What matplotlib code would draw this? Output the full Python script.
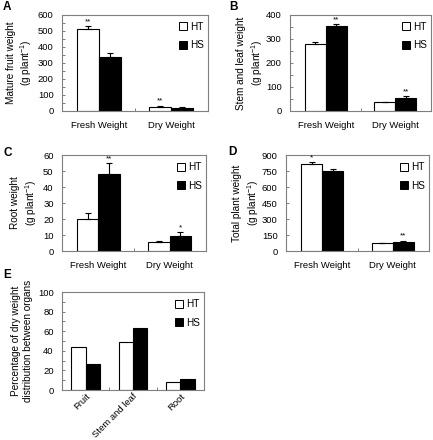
import matplotlib
matplotlib.use("Agg")
import matplotlib.pyplot as plt
from matplotlib.lines import Line2D
import numpy as np

plt.rcParams['font.family'] = ['Liberation Sans', 'DejaVu Sans']
plt.rcParams['mathtext.fontset'] = 'custom'
plt.rcParams['mathtext.rm'] = 'Liberation Sans'
plt.rcParams['mathtext.it'] = 'Liberation Sans:italic'
plt.rcParams['mathtext.bf'] = 'Liberation Sans:bold'

# ---------------- data ----------------
groups = ["Fresh Weight", "Dry Weight"]
series = ["HT", "HS"]

fruit_ht = [510, 28]
fruit_ht_err = [20, 6]
fruit_hs = [340, 21]
fruit_hs_err = [20, 2]
fruit_stars_ht = ["**", "**"]
fruit_stars_hs = ["", ""]

stem_ht = [280, 36]
stem_ht_err = [8, 2]
stem_hs = [354, 56]
stem_hs_err = [8, 6]
stem_stars_ht = ["", ""]
stem_stars_hs = ["**", "**"]

root_ht = [20, 5.7]
root_ht_err = [3.5, 0.8]
root_hs = [48, 9.6]
root_hs_err = [7, 2.3]
root_stars_ht = ["", ""]
root_stars_hs = ["**", "*"]

total_ht = [812, 72]
total_ht_err = [20, 3]
total_hs = [747, 88]
total_hs_err = [20, 10]
total_stars_ht = ["*", ""]
total_stars_hs = ["", "**"]

organs = ["Fruit", "Stem and leaf", "Root"]
pct_ht = [44, 48.6, 7.8]
pct_hs = [27, 63, 10.9]

GRAY = "#7f7f7f"
FS = 6.8
W = 0.3

fig = plt.figure(figsize=(4.33, 4.40), dpi=100)

def fx(px):
    return px / 433.0

def fy(py):
    return 1 - py / 440.0

def make_ax(l, r, t, b):
    return fig.add_axes([fx(l), fy(b), fx(r) - fx(l), fy(t) - fy(b)])

def style(ax, ymax, major, minor, ylabel, labx):
    for s in ax.spines.values():
        s.set_color(GRAY)
        s.set_linewidth(0.8)
    ax.set_ylim(0, ymax)
    ax.set_yticks(np.arange(0, ymax + major / 2, major))
    if minor:
        ax.set_yticks(np.arange(0, ymax + minor / 2, minor), minor=True)
    ax.tick_params(axis='y', which='both', direction='in', length=2.5,
                   width=0.7, color=GRAY, labelsize=FS, pad=6, right=False)
    ax.tick_params(axis='y', which='minor', length=2)
    ax.set_ylabel(ylabel, fontsize=7.2, linespacing=1.25)
    ax.yaxis.set_label_coords(labx, 0.5)

def legend(ax):
    handles = [Line2D([], [], ls='none', marker='s', markersize=5.2,
                      markerfacecolor=c, markeredgecolor='black',
                      markeredgewidth=0.7) for c in ('white', 'black')]
    ax.legend(handles, series, loc='upper right', bbox_to_anchor=(1.02, 1.0),
              frameon=False, fontsize=FS + 0.4, handlelength=0.8,
              handletextpad=0.3, labelspacing=0.85, borderaxespad=0.3)

def weight_panel(ax, ht, hte, hs, hse, sht, shs, ymax, major, minor, ylabel, labx):
    x = np.arange(len(groups))
    ax.bar(x - W / 2, ht, W, color='white', edgecolor='black', linewidth=0.8)
    ax.bar(x + W / 2, hs, W, color='black', edgecolor='black', linewidth=0.8)
    ax.errorbar(x - W / 2, ht, yerr=[np.zeros(len(ht)), hte], fmt='none',
                ecolor='black', elinewidth=0.8, capsize=2.2, capthick=0.8)
    ax.errorbar(x + W / 2, hs, yerr=[np.zeros(len(hs)), hse], fmt='none',
                ecolor='black', elinewidth=0.8, capsize=2.2, capthick=0.8)
    for xi, v, e, s in zip(x - W / 2, ht, hte, sht):
        if s:
            ax.annotate(s, (xi, v + e), xytext=(0, 0.5), textcoords='offset points',
                        ha='center', va='bottom', fontsize=5.8)
    for xi, v, e, s in zip(x + W / 2, hs, hse, shs):
        if s:
            ax.annotate(s, (xi, v + e), xytext=(0, 0.5), textcoords='offset points',
                        ha='center', va='bottom', fontsize=5.8)
    ax.set_xlim(-0.514, 1.514)
    ax.set_xticks(x)
    ax.set_xticklabels(groups, fontsize=FS)
    ax.set_xticks([0.5], minor=True)
    ax.tick_params(axis='x', which='major', length=0, pad=7)
    ax.tick_params(axis='x', which='minor', direction='in', length=2.5,
                   width=0.7, color=GRAY)
    style(ax, ymax, major, minor, ylabel, labx)
    legend(ax)

axA = make_ax(62, 208, 15, 111)
weight_panel(axA, fruit_ht, fruit_ht_err, fruit_hs, fruit_hs_err,
             fruit_stars_ht, fruit_stars_hs, 600, 100, 50,
             "Mature fruit weight\n(g plant$^{-1}$)", -0.19)

axB = make_ax(290, 431, 15, 111)
weight_panel(axB, stem_ht, stem_ht_err, stem_hs, stem_hs_err,
             stem_stars_ht, stem_stars_hs, 400, 100, 50,
             "Stem and leaf weight\n(g plant$^{-1}$)", -0.18)

axC = make_ax(62, 206, 155, 251)
weight_panel(axC, root_ht, root_ht_err, root_hs, root_hs_err,
             root_stars_ht, root_stars_hs, 60, 10, None,
             "Root weight\n(g plant$^{-1}$)", -0.16)

axD = make_ax(286, 429, 155, 251)
weight_panel(axD, total_ht, total_ht_err, total_hs, total_hs_err,
             total_stars_ht, total_stars_hs, 900, 150, None,
             "Total plant weight\n(g plant$^{-1}$)", -0.178)

axE = make_ax(62, 204, 292, 390)
xe = np.arange(len(organs))
axE.bar(xe - W / 2, pct_ht, W, color='white', edgecolor='black', linewidth=0.8)
axE.bar(xe + W / 2, pct_hs, W, color='black', edgecolor='black', linewidth=0.8)
axE.set_xlim(-0.5, 2.5)
axE.set_xticks(xe)
axE.set_xticklabels(organs, fontsize=FS, rotation=45, ha='right',
                    rotation_mode='anchor')
axE.set_xticks([0.5, 1.5], minor=True)
axE.tick_params(axis='x', which='major', length=0, pad=1.5)
axE.tick_params(axis='x', which='minor', direction='in', length=2.5,
                width=0.7, color=GRAY)
style(axE, 100, 20, 10, "Percentage of dry weight\ndistribution between organs", -0.205)
legend(axE)

for lab, x, y in [("A", 3, 7), ("B", 229, 7), ("C", 3, 153), ("D", 228, 152), ("E", 3, 275)]:
    fig.text(fx(x), fy(y), lab, fontsize=8.5, fontweight='bold', ha='left', va='center')

fig.savefig("out.png", dpi=100)
